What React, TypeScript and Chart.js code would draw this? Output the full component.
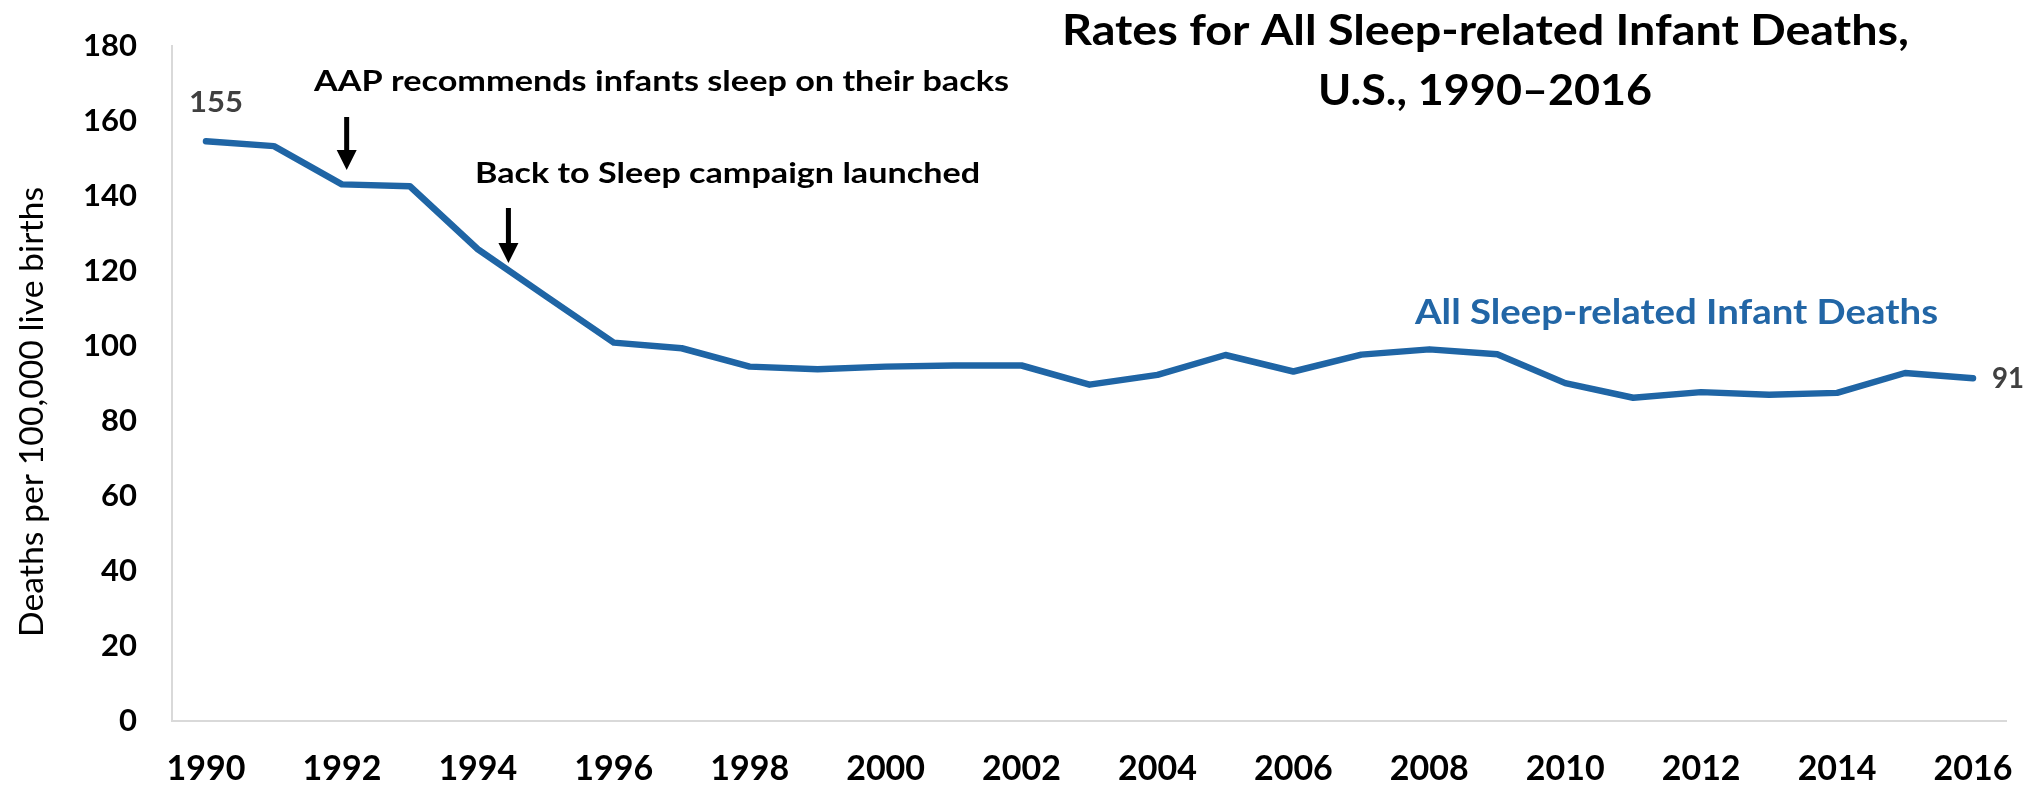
import React, { useEffect, useRef } from "react";
import { Chart, registerables } from "chart.js";

Chart.register(...registerables);

const years = [
  "1990", "1991", "1992", "1993", "1994", "1995", "1996", "1997", "1998",
  "1999", "2000", "2001", "2002", "2003", "2004", "2005", "2006", "2007",
  "2008", "2009", "2010", "2011", "2012", "2013", "2014", "2015", "2016",
];
const rates = [
  154.6, 153.3, 143.1, 142.6, 125.8, 113.3, 100.9, 99.4, 94.5,
  93.8, 94.5, 94.8, 94.8, 89.7, 92.3, 97.6, 93.2, 97.7,
  99.1, 97.8, 90.1, 86.2, 87.7, 87.0, 87.5, 92.8, 91.4,
];
const yMin = 0;
const yMax = 180;
const yStep = 20;
const titleLines = ["Rates for All Sleep-related Infant Deaths,", "U.S., 1990\u20132016"];
const seriesName = "All Sleep-related Infant Deaths";
const yAxisTitle = "Deaths per 100,000 live births";
const eventTexts = ["AAP recommends infants sleep on their backs", "Back to Sleep campaign launched"];
const eventYears = [1992.07, 1994.45];

const LINE_COLOR = "#1f65a5";
const FONT = "Lato, 'Open Sans', sans-serif";
const PLOT_TOP = 46;

function fitText(
  ctx: CanvasRenderingContext2D,
  text: string,
  left: number,
  baseline: number,
  width: number,
  size: number,
  weight: string,
  color: string
) {
  ctx.save();
  ctx.font = `${weight} ${size}px ${FONT}`;
  ctx.fillStyle = color;
  ctx.textAlign = "left";
  ctx.textBaseline = "alphabetic";
  const w = ctx.measureText(text).width;
  ctx.translate(left, baseline);
  ctx.scale(width / w, 1);
  ctx.fillText(text, 0, 0);
  ctx.restore();
}

function drawArrow(ctx: CanvasRenderingContext2D, x: number, top: number, tip: number) {
  ctx.save();
  ctx.fillStyle = "#000";
  const head = 20;
  ctx.fillRect(x - 2.5, top, 5, tip - head - top + 1);
  ctx.beginPath();
  ctx.moveTo(x - 10, tip - head);
  ctx.lineTo(x + 10, tip - head);
  ctx.lineTo(x, tip);
  ctx.closePath();
  ctx.fill();
  ctx.restore();
}

const annotationPlugin = {
  id: "annotations",
  afterDraw(chart: any) {
    const ctx: CanvasRenderingContext2D = chart.ctx;
    const xs = chart.scales.x;
    const ys = chart.scales.y;
    const yearPx = (yr: number) => {
      const i = Math.floor(yr - 1990);
      const f = yr - 1990 - i;
      const a = xs.getPixelForValue(i);
      const b = xs.getPixelForValue(i + 1);
      return a + (b - a) * f;
    };

    // Title
    fitText(ctx, titleLines[0], 1062, 45, 847, 42, "bold", "#000");
    fitText(ctx, titleLines[1], 1318, 105, 334, 42, "bold", "#000");

    // Y axis title (rotated)
    ctx.save();
    ctx.translate(31 + 11.5, 412);
    ctx.rotate(-Math.PI / 2);
    fitText(ctx, yAxisTitle, -225, 0, 450, 32, "normal", "#000");
    ctx.restore();

    // Events
    fitText(ctx, eventTexts[0], 314, 91, 695, 29, "bold", "#000");
    fitText(ctx, eventTexts[1], 475, 183, 505, 28, "bold", "#000");
    drawArrow(ctx, yearPx(eventYears[0]), 117, 170);
    drawArrow(ctx, yearPx(eventYears[1]), 208, 263);

    // Series label
    fitText(ctx, seriesName, 1415, 324, 523, 33.5, "bold", "#2266a6");

    // Data labels for first and last points
    const first = rates[0];
    const last = rates[rates.length - 1];
    const fx = xs.getPixelForValue(0);
    const fy = ys.getPixelForValue(first);
    fitText(ctx, String(Math.round(first)), fx - 17, fy - 29, 54, 28, "bold", "#404040");
    const lx = xs.getPixelForValue(rates.length - 1);
    const ly = ys.getPixelForValue(last);
    fitText(ctx, String(Math.round(last)), lx + 19, ly + 10, 32, 29, "bold", "#404040");
  },
};

const pinAreaPlugin = {
  id: "pinArea",
  afterLayout(chart: any) {
    // keep plot top where the reference has it
    const ca = chart.chartArea;
    if (Math.abs(ca.top - PLOT_TOP) > 0.5) {
      const ys = chart.scales.y;
      ca.top = PLOT_TOP;
      ca.height = ca.bottom - ca.top;
      ys.top = PLOT_TOP;
      ys.height = ys.bottom - ys.top;
      ys.configure();
    }
  },
};

export default function App() {
  const canvasRef = useRef<HTMLCanvasElement | null>(null);

  useEffect(() => {
    const canvas = canvasRef.current;
    if (!canvas) return;
    const chart = new Chart(canvas, {
      type: "line",
      data: {
        labels: years,
        datasets: [
          {
            label: seriesName,
            data: rates,
            borderColor: LINE_COLOR,
            backgroundColor: LINE_COLOR,
            borderWidth: 6.5,
            pointRadius: 0,
            pointHoverRadius: 0,
            tension: 0,
            borderJoinStyle: "round",
            borderCapStyle: "round",
            fill: false,
          },
        ],
      },
      options: {
        responsive: false,
        animation: false,
        events: [],
        layout: { padding: { left: 0, right: 30, top: PLOT_TOP, bottom: 0 } },
        plugins: {
          legend: { display: false },
          title: { display: false },
          tooltip: { enabled: false },
        },
        scales: {
          x: {
            type: "category",
            offset: true,
            grid: { display: false, drawTicks: false },
            border: { display: true, color: "#d9d9d9", width: 2 },
            ticks: {
              color: "#000",
              font: { family: FONT, size: 34, weight: "bold" },
              padding: 28,
              autoSkip: false,
              maxRotation: 0,
              callback: (_v: any, i: number) => (i % 2 === 0 ? years[i] : ""),
            },
            afterFit: (s: any) => {
              s.height = 70;
            },
          },
          y: {
            min: yMin,
            max: yMax,
            grid: { display: false, drawTicks: false },
            border: { display: true, color: "#d9d9d9", width: 2 },
            ticks: {
              stepSize: yStep,
              color: "#000",
              font: { family: FONT, size: 31, weight: "bold" },
              padding: 35,
            },
            afterFit: (s: any) => {
              s.width = 172;
            },
          },
        },
      },
      plugins: [pinAreaPlugin, annotationPlugin],
    });
    return () => chart.destroy();
  }, []);

  return (
    <div style={{ position: "fixed", left: 0, top: 0, width: 2041, height: 791, background: "#fff" }}>
      <canvas ref={canvasRef} width={2041} height={791} style={{ display: "block" }} />
    </div>
  );
}
